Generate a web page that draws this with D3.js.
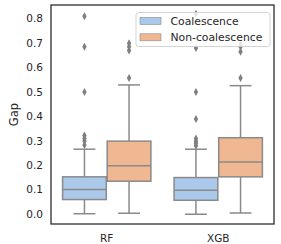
<!DOCTYPE html>
<html>
<head>
<meta charset="utf-8">
<script src="https://cdn.jsdelivr.net/npm/d3@7/dist/d3.min.js"></script>
<style>
  html, body { margin: 0; padding: 0; background: #fff; }
  svg { display: block; font-family: "DejaVu Sans", sans-serif; }
</style>
</head>
<body>
<svg id="chart"></svg>
<script>
// categories and hue groups
const categories = ['RF', 'XGB'];
const hues = ['Coalescence', 'Non-coalescence'];

// box statistics per category, [Coalescence, Non-coalescence]
const whiskerLow = { RF: [0.002, 0.004], XGB: [0.0, 0.005] };
const q1 = { RF: [0.060, 0.135], XGB: [0.057, 0.153] };
const median = { RF: [0.101, 0.198], XGB: [0.098, 0.214] };
const q3 = { RF: [0.153, 0.299], XGB: [0.150, 0.313] };
const whiskerHigh = { RF: [0.266, 0.529], XGB: [0.266, 0.526] };
const outliers = {
  RF: [[0.283, 0.30, 0.31, 0.322, 0.50, 0.685, 0.81], [0.557, 0.67, 0.685, 0.70]],
  XGB: [[0.28, 0.29, 0.30, 0.31, 0.39, 0.50, 0.68, 0.82], [0.557, 0.665, 0.685, 0.695]]
};
const yTicks = [0.0, 0.1, 0.2, 0.3, 0.4, 0.5, 0.6, 0.7, 0.8];

const width = 281, height = 244;
const margin = { top: 5, right: 7, bottom: 20, left: 51 };
const colors = ['#abc9ea', '#efb792'];
const lineColor = '#8a8a8a';

const svg = d3.select('#chart').attr('width', width).attr('height', height);

const x = d3.scaleBand().domain(categories)
  .range([margin.left, width - margin.right]).padding(0);
const y = d3.scaleLinear().domain([-0.04, 0.856])
  .range([height - margin.bottom, margin.top]);

const hueWidth = x.bandwidth() * 0.8 / hues.length;
const boxW = hueWidth * 0.98;

// y axis labels (no tick marks)
svg.append('g')
  .selectAll('text')
  .data(yTicks)
  .join('text')
  .attr('x', margin.left - 8)
  .attr('y', d => y(d))
  .attr('dy', '0.35em')
  .attr('text-anchor', 'end')
  .attr('font-size', 10.5)
  .attr('fill', '#262626')
  .text(d => d3.format('.1f')(d));

// x axis labels
svg.append('g')
  .selectAll('text')
  .data(categories)
  .join('text')
  .attr('x', d => x(d) + x.bandwidth() / 2)
  .attr('y', height - margin.bottom + 14)
  .attr('dy', '0.35em')
  .attr('text-anchor', 'middle')
  .attr('font-size', 10.5)
  .attr('fill', '#262626')
  .text(d => d);

svg.append('text')
  .attr('transform', `translate(14,${(margin.top + height - margin.bottom) / 2}) rotate(-90)`)
  .attr('text-anchor', 'middle')
  .attr('dy', '0.35em')
  .attr('font-size', 11.5)
  .attr('fill', '#262626')
  .text('Gap');

// boxes
const rows = [];
categories.forEach(c => hues.forEach((h, i) => rows.push({ c, i })));

const g = svg.append('g');
rows.forEach(({ c, i }) => {
  const cx = x(c) + x.bandwidth() / 2 + (i - 0.5) * hueWidth;
  const grp = g.append('g');
  grp.append('line')
    .attr('x1', cx).attr('x2', cx)
    .attr('y1', y(whiskerLow[c][i])).attr('y2', y(q1[c][i]))
    .attr('stroke', lineColor).attr('stroke-width', 1.5);
  grp.append('line')
    .attr('x1', cx).attr('x2', cx)
    .attr('y1', y(q3[c][i])).attr('y2', y(whiskerHigh[c][i]))
    .attr('stroke', lineColor).attr('stroke-width', 1.5);
  [whiskerLow[c][i], whiskerHigh[c][i]].forEach(v => {
    grp.append('line')
      .attr('x1', cx - boxW / 4).attr('x2', cx + boxW / 4)
      .attr('y1', y(v)).attr('y2', y(v))
      .attr('stroke', lineColor).attr('stroke-width', 1.5);
  });
  grp.append('rect')
    .attr('x', cx - boxW / 2).attr('width', boxW)
    .attr('y', y(q3[c][i])).attr('height', y(q1[c][i]) - y(q3[c][i]))
    .attr('fill', colors[i]).attr('stroke', lineColor).attr('stroke-width', 1.5);
  grp.append('line')
    .attr('x1', cx - boxW / 2).attr('x2', cx + boxW / 2)
    .attr('y1', y(median[c][i])).attr('y2', y(median[c][i]))
    .attr('stroke', lineColor).attr('stroke-width', 1.5);
  // diamond fliers
  grp.selectAll('path')
    .data(outliers[c][i])
    .join('path')
    .attr('d', d => `M${cx},${y(d) - 4}L${cx + 2.2},${y(d)}L${cx},${y(d) + 4}L${cx - 2.2},${y(d)}Z`)
    .attr('fill', '#7f7f7f');
});

// frame
svg.append('rect')
  .attr('x', margin.left).attr('y', margin.top)
  .attr('width', width - margin.left - margin.right)
  .attr('height', height - margin.top - margin.bottom)
  .attr('fill', 'none').attr('stroke', '#262626').attr('stroke-width', 1.25);

// legend
const lg = svg.append('g').attr('transform', 'translate(136,12.5)');
lg.append('rect')
  .attr('width', 134).attr('height', 34).attr('rx', 2.5)
  .attr('fill', 'rgba(255,255,255,0.8)').attr('stroke', '#cfcfcf').attr('stroke-width', 0.9);
hues.forEach((h, i) => {
  const row = lg.append('g').attr('transform', `translate(0,${8.5 + i * 16.3})`);
  row.append('rect')
    .attr('x', 4).attr('y', -3.5).attr('width', 21).attr('height', 7)
    .attr('fill', colors[i]).attr('stroke', lineColor).attr('stroke-width', 0.6);
  row.append('text')
    .attr('x', 34.5).attr('dy', '0.35em')
    .attr('font-size', 10.8).attr('fill', '#262626')
    .text(h);
});
</script>
</body>
</html>
